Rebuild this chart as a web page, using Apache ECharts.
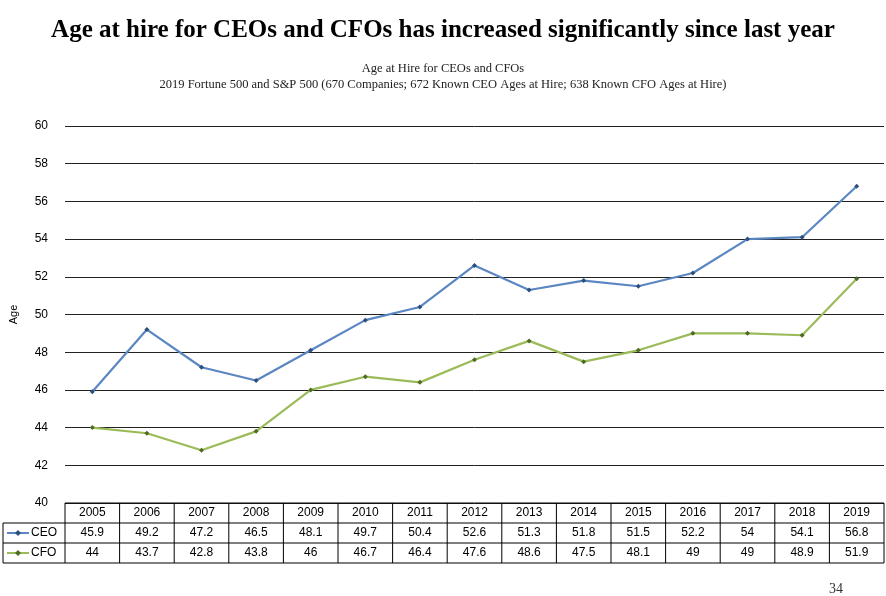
<!DOCTYPE html>
<html>
<head>
<meta charset="utf-8">
<script src="https://cdn.jsdelivr.net/npm/echarts@6/dist/echarts.min.js"></script>
<style>html,body{margin:0;padding:0;background:#fff}#c{width:886px;height:596px}</style>
</head>
<body>
<div id="c"></div>
<script>
const years = ['2005','2006','2007','2008','2009','2010','2011','2012','2013','2014','2015','2016','2017','2018','2019']
const ceo = [45.9,49.2,47.2,46.5,48.1,49.7,50.4,52.6,51.3,51.8,51.5,52.2,54,54.1,56.8]
const cfo = [44,43.7,42.8,43.8,46,46.7,46.4,47.6,48.6,47.5,48.1,49,49,48.9,51.9]
const ceoColor = '#5a86c2'
const cfoColor = '#9bbb59'

const chart = echarts.init(document.getElementById('c'))
const serif = 'Liberation Serif'
const sans = 'Liberation Sans'

chart.setOption({
  animation: false,
  title: [
    { text: 'Age at hire for CEOs and CFOs has increased significantly since last year', left: 'center', top: 13,
      textStyle: { fontFamily: serif, fontSize: 25, fontWeight: 'bold', color: '#000' } },
    { text: 'Age at Hire for CEOs and CFOs\n2019 Fortune 500 and S&P 500 (670 Companies; 672 Known CEO Ages at Hire; 638 Known CFO Ages at Hire)',
      left: 'center', top: 56, textStyle: { fontFamily: serif, fontSize: 12.5, fontWeight: 'normal', color: '#222', lineHeight: 16 } }
  ],
  grid: { left: 58, right: 2, top: 126, height: 377 },
  xAxis: {
    type: 'category', data: years, boundaryGap: true,
    axisLine: { show: false }, axisTick: { show: false },
    axisLabel: { show: false }
  },
  yAxis: {
    type: 'value', min: 40, max: 60, interval: 2,
    name: 'Age', nameLocation: 'middle', nameGap: 46, nameRotate: 90,
    nameTextStyle: { fontFamily: sans, fontSize: 11, color: '#000' },
    axisLine: { show: false }, axisTick: { show: false },
    axisLabel: { fontFamily: sans, fontSize: 12, color: '#000', margin: 17 },
    splitLine: { lineStyle: { color: '#222', width: 1 } }
  },
  series: [
    { name: 'CEO', type: 'line', data: ceo, symbol: 'diamond', symbolSize: 5,
      lineStyle: { color: ceoColor, width: 2.2 }, itemStyle: { color: '#2c4f7c' } },
    { name: 'CFO', type: 'line', data: cfo, symbol: 'diamond', symbolSize: 5,
      lineStyle: { color: cfoColor, width: 2.2 }, itemStyle: { color: '#4f6a22' } }
  ]
})

// data table under the plot, positioned from the category scale
const rowTop = 503, rowH = 20
const x0 = chart.convertToPixel({ xAxisIndex: 0 }, 0)
const x1 = chart.convertToPixel({ xAxisIndex: 0 }, 1)
const cw = x1 - x0
const left = x0 - cw / 2
const right = left + cw * years.length
const g = []
const ln = (a, b, c, d) => g.push({ type: 'line', shape: { x1: a, y1: b, x2: c, y2: d }, style: { stroke: '#000', lineWidth: 1 } })
const txt = (x, y, t, align) => g.push({ type: 'text', x: x, y: y, style: { text: t, fill: '#000', font: '12px ' + sans, align: align || 'center', verticalAlign: 'middle' } })
for (let i = 0; i <= years.length; i++) ln(left + cw * i, rowTop, left + cw * i, rowTop + rowH * 3)
ln(3, rowTop + rowH, 3, rowTop + rowH * 3)
ln(left, rowTop, right, rowTop)
for (let r = 1; r <= 3; r++) ln(3, rowTop + rowH * r, right, rowTop + rowH * r)
years.forEach((y, i) => {
  const cx = chart.convertToPixel({ xAxisIndex: 0 }, i)
  txt(cx, rowTop + rowH / 2, y)
  txt(cx, rowTop + rowH * 1.5, String(ceo[i]))
  txt(cx, rowTop + rowH * 2.5, String(cfo[i]))
})
const legendRow = (y, color, mark, label) => {
  g.push({ type: 'line', shape: { x1: 7, y1: y, x2: 29, y2: y }, style: { stroke: color, lineWidth: 2 } })
  g.push({ type: 'polygon', shape: { points: [[18, y - 3], [21, y], [18, y + 3], [15, y]] }, style: { fill: mark } })
  txt(31, y, label, 'left')
}
legendRow(rowTop + rowH * 1.5, ceoColor, '#2c4f7c', 'CEO')
legendRow(rowTop + rowH * 2.5, cfoColor, '#4f6a22', 'CFO')
g.push({ type: 'text', x: 836, y: 589, style: { text: '34', fill: '#333', font: '14px ' + serif, align: 'center', verticalAlign: 'middle' } })
chart.setOption({ graphic: g })
</script>
</body>
</html>
